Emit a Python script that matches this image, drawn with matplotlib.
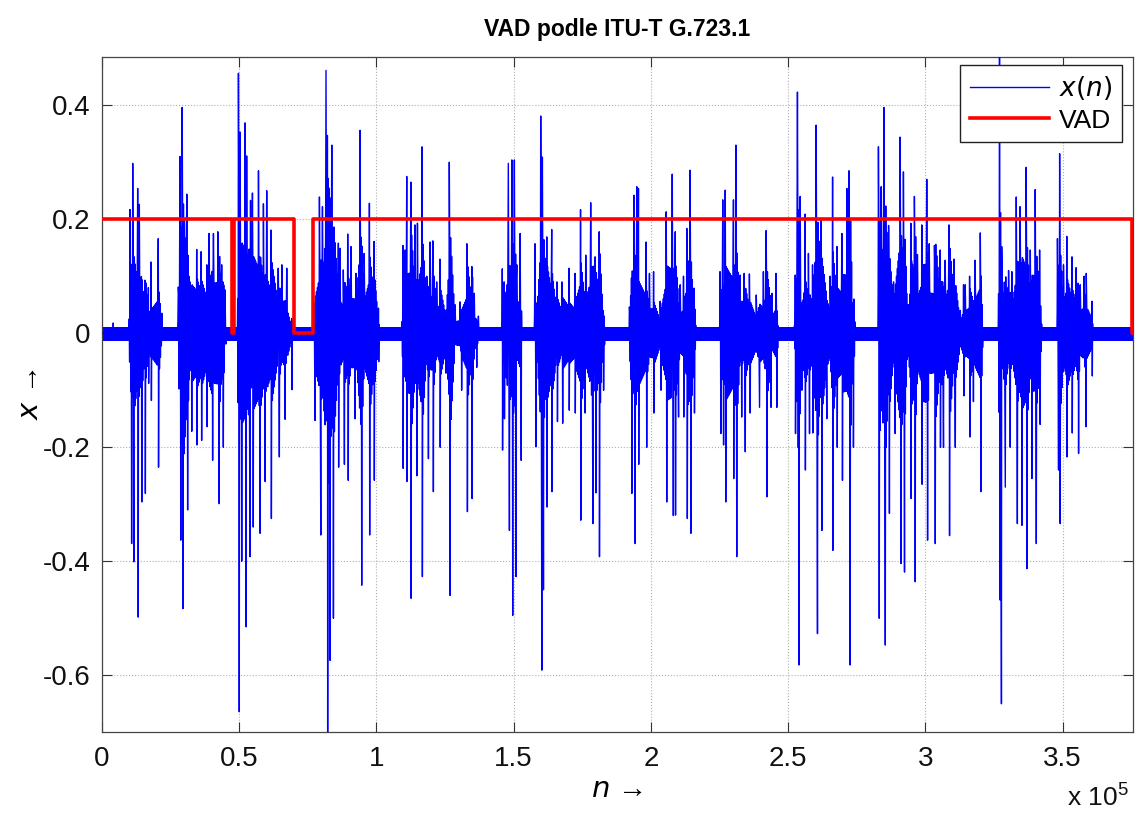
import numpy as np
import matplotlib
matplotlib.use('Agg')
import matplotlib.pyplot as plt

plt.rcParams['font.family'] = ['Liberation Sans', 'DejaVu Sans']
plt.rcParams['mathtext.default'] = 'regular'

# ---------------- data (n in thousands of samples) ----------------
N_MAX = 375.5
NOISE_UP = 0.011
NOISE_LO = -0.013

vad_n = [0.0, 47.4, 48.2, 70.0, 76.9, 375.1, 375.5]
vad_v = [0.2, 0.0, 0.2, 0.0, 0.2, 0.0, 0.0]

blip = [(4.2, 0.018)]

# speech bursts: start, end (thousands of samples)
burst_start = [9.9, 27.6, 49.4, 77.0, 109.3, 145.7, 157.5, 191.7, 225.0, 252.2, 282.7, 326.5, 347.9]
burst_end   = [22.3, 45.5, 69.6, 101.5, 137.8, 153.0, 183.5, 216.5, 246.5, 274.5, 321.0, 342.5, 361.0]
# share of neighbouring peak height reached by the dense in-between oscillation
core_share  = [0.35, 0.50, 0.40, 0.40, 0.40, 0.35, 0.40, 0.40, 0.40, 0.40, 0.45, 0.40, 0.45]

# peaks (n, value)
b01 = [(10.3,0.217),(10.9,-0.369),(11.3,0.298),(11.7,-0.401),(13.1,0.254),(13.3,-0.498),(13.7,0.226),
       (14.6,-0.296),(15.8,0.093),(15.9,-0.281),(17.0,0.08),(17.1,-0.088),(18.0,0.125),(18.1,-0.118),
       (20.6,0.166),(20.7,-0.235),(21.9,0.035)]
b02 = [(27.9,0.081),(28.5,0.31),(28.8,-0.363),(29.3,0.396),(29.6,-0.483),(31.0,0.244),(31.3,-0.31),
       (32.2,0.09),(32.8,-0.172),(34.6,0.147),(34.7,-0.196),(36.2,0.143),(36.4,-0.188),(38.3,0.12),
       (38.4,-0.164),(39.1,0.175),(40.4,-0.223),(40.7,0.175),(42.3,0.178),(42.8,-0.299),(43.7,0.12),
       (44.3,-0.2),(44.9,0.076)]
b03 = [(49.8,0.456),(50.1,-0.664),(50.4,0.353),(51.0,-0.40),(52.2,0.369),(52.6,-0.515),(52.8,0.311),
       (54.0,-0.392),(54.2,0.233),(54.9,0.246),(55.2,-0.34),(57.1,0.285),(57.7,-0.351),(58.9,0.227),
       (59.5,-0.26),(60.1,0.25),(61.7,0.181),(61.8,-0.325),(64.3,0.114),(64.7,-0.217),(65.6,0.12),
       (66.8,-0.151),(67.4,0.114),(69.2,0.026),(69.3,-0.099)]
b04 = [(77.3,0.053),(77.7,-0.153),(79.3,0.239),(79.8,-0.354),(80.4,0.222),(81.7,0.461),(82.2,0.347),
       (82.3,-0.70),(83.2,-0.574),(83.8,0.33),(84.4,-0.50),(86.2,0.158),(86.3,-0.235),(86.8,0.149),
       (88.0,0.111),(88.4,-0.23),(89.6,0.174),(89.8,-0.258),(90.8,0.152),(92.3,-0.15),(92.6,0.105),
       (94.1,0.356),(94.7,-0.442),(95.6,0.14),(97.5,0.228),(97.6,-0.354),(99.2,0.161),(99.3,-0.258),
       (100.8,0.044),(100.9,-0.05)]
b05 = [(109.7,0.154),(109.8,-0.237),(110.5,0.146),(111.1,0.275),(111.2,-0.26),(112.6,0.265),(112.7,-0.465),
       (114.1,0.19),(114.8,-0.25),(115.0,0.193),(116.7,0.327),(116.8,-0.427),(118.4,0.1),(119.0,-0.22),
       (119.6,0.16),(120.6,0.162),(120.8,-0.278),(122.0,0.09),(123.2,0.13),(123.3,-0.2),(125.4,-0.07),
       (126.6,0.30),(126.9,-0.46),(128.7,0.05),(130.5,0.055),(131.1,-0.1),(133.0,0.157),(133.2,-0.313),
       (134.8,0.117),(134.9,-0.29),(135.7,0.07),(136.6,-0.06),(137.2,0.03)]
b06 = [(145.9,0.113),(146.0,-0.205),(146.6,0.09),(146.7,-0.15),(148.1,0.298),(148.5,-0.346),(149.4,0.304),
       (149.7,-0.495),(150.3,0.304),(150.9,-0.427),(151.2,0.12),(152.4,0.175),(152.8,-0.223)]
b07 = [(157.8,0.157),(158.2,-0.199),(158.4,0.053),(159.9,0.381),(160.3,-0.591),(160.5,0.309),(160.9,-0.45),
       (162.1,0.169),(162.2,-0.305),(163.9,0.182),(164.0,-0.278),(165.8,0.09),(166.0,-0.155),(167.6,0.09),
       (167.9,-0.158),(170.2,0.114),(170.3,-0.135),(172.4,0.105),(172.5,-0.14),(174.4,0.217),(174.5,-0.328),
       (176.1,-0.14),(176.3,0.137),(178.1,0.229),(178.9,-0.334),(179.7,0.134),(180.0,-0.28),(181.2,0.178),
       (181.3,-0.392),(182.7,0.04),(182.8,-0.1)]
b08 = [(192.2,0.046),(193.1,-0.281),(193.9,0.242),(194.3,-0.369),(194.9,0.257),(195.5,0.254),(195.6,-0.23),
       (198.3,0.16),(198.5,-0.2),(199.5,0.105),(201.0,0.108),(201.1,-0.14),(203.4,0.056),(203.7,-0.1),
       (205.6,0.213),(205.8,-0.296),(207.8,0.279),(208.2,-0.32),(208.9,0.178),(209.0,-0.319),(210.1,-0.147),
       (210.7,0.085),(211.9,0.1),(212.0,-0.147),(213.1,0.184),(213.3,-0.325),(214.3,0.286),(214.6,-0.351),
       (215.8,0.079),(215.9,-0.14)]
b09 = [(225.2,0.108),(225.5,-0.176),(226.2,0.234),(226.5,-0.196),(227.1,0.251),(227.3,-0.296),(230.1,0.234),
       (230.2,-0.255),(231.0,0.33),(231.3,-0.392),(232.5,0.102),(233.1,-0.147),(234.0,0.105),(234.4,-0.208),
       (235.9,0.104),(236.2,-0.14),(238.4,0.067),(239.6,-0.13),(241.0,0.108),(242.0,0.18),(242.3,-0.287),
       (243.8,-0.13),(244.1,0.07),(245.6,0.105),(245.9,-0.13)]
b10 = [(252.6,0.102),(252.7,-0.176),(253.4,0.423),(254.0,-0.582),(254.4,0.24),(255.0,-0.1),(256.2,0.209),
       (256.3,-0.24),(257.4,0.14),(257.8,-0.176),(258.9,0.12),(259.0,-0.175),(260.2,0.365),(260.7,-0.527),
       (262.0,0.2),(262.3,-0.346),(264.1,-0.15),(265.3,0.1),(266.2,0.274),(266.3,-0.381),(267.8,0.152),
       (267.9,-0.2),(269.6,0.175),(269.8,-0.258),(271.4,0.254),(272.2,0.285),(272.6,-0.582),(273.6,0.043),
       (273.8,-0.2)]
b11 = [(282.9,0.327),(283.2,-0.50),(283.9,0.257),(284.9,0.396),(285.4,-0.547),(286.6,0.189),(286.9,-0.316),
       (288.4,0.09),(289.0,-0.176),(290.8,0.344),(291.1,-0.404),(292.0,0.283),(292.4,-0.419),(293.5,0.05),
       (294.7,0.193),(294.8,-0.29),(296.0,0.24),(296.3,-0.436),(297.1,0.138),(298.7,0.19),(298.8,-0.265),
       (300.5,0.27),(300.8,-0.363),(301.4,0.157),(303.3,0.154),(303.6,-0.369),(305.4,0.146),(305.5,-0.2),
       (306.6,-0.2),(307.2,0.128),(308.6,0.19),(308.8,-0.355),(310.4,0.13),(310.9,-0.2),(312.7,0.04),
       (313.9,0.085),(314.0,-0.11),(314.5,0.085),(316.1,0.1),(316.2,-0.182),(317.5,-0.12),(318.1,0.128),
       (320.0,0.176),(320.2,-0.278)]
b12 = [(327.0,0.52),(327.2,-0.468),(327.7,-0.65),(327.9,0.11),(329.1,-0.27),(330.3,0.11),(330.9,-0.2),
       (331.5,0.108),(333.1,0.239),(333.5,-0.334),(334.5,0.222),(335.2,-0.337),(336.7,0.291),(337.0,-0.413),
       (338.2,0.146),(338.8,-0.255),(340.0,0.252),(340.4,-0.369),(341.6,0.146),(341.8,-0.16)]
b13 = [(348.1,0.166),(348.5,-0.24),(348.9,0.315),(349.1,-0.334),(350.3,0.12),(351.5,0.17),(351.6,-0.217),
       (353.4,0.134),(353.5,-0.175),(354.9,0.115),(355.8,-0.211),(356.4,0.085),(357.8,0.1),(358.5,-0.164),
       (358.6,0.105),(360.7,0.056),(360.8,-0.075)]

x_ticks = [0, 0.5, 1, 1.5, 2, 2.5, 3, 3.5]
x_ticklabels = ['0', '0.5', '1', '1.5', '2', '2.5', '3', '3.5']
y_ticks = [-0.6, -0.4, -0.2, 0, 0.2, 0.4]
y_ticklabels = ['-0.6', '-0.4', '-0.2', '0', '0.2', '0.4']

bursts = [b01, b02, b03, b04, b05, b06, b07, b08, b09, b10, b11, b12, b13]

# ---------------- build waveform path ----------------
xs = [0.0, blip[0][0] - 0.1, blip[0][0], blip[0][0] + 0.1]
ys = [0.0, 0.0, blip[0][1], 0.0]
for pk, s, e, share in zip(bursts, burst_start, burst_end, core_share):
    pk = sorted(pk)
    xs.append(s); ys.append(0.0)
    prev = (s, 0.0)
    for n, v in pk + [(e, 0.0)]:
        pn, pv = prev
        k = max(int((n - pn) / 0.18), 1)
        for j in range(1, k + 1):
            f = j / (k + 1)
            t = pn + (n - pn) * f
            amp = share * ((1 - f) * abs(pv) + f * abs(v))
            ys.append(amp if j % 2 else -amp)
            xs.append(t)
        xs.append(n); ys.append(v)
        prev = (n, v)
xs.append(N_MAX); ys.append(0.0)
xs = np.array(xs) * 1e3
ys = np.array(ys)

# ---------------- figure ----------------
fig = plt.figure(figsize=(11.44, 8.13), dpi=100)
ax = fig.add_axes([0.0889, 0.0993, 0.9012, 0.8302])

BLUE = '#0000ff'
ax.fill_between([0, N_MAX * 1e3], [NOISE_LO, NOISE_LO], [NOISE_UP, NOISE_UP], color=BLUE, lw=0, zorder=2)
ln_x, = ax.plot(xs, ys, color=BLUE, lw=1.0, zorder=3, label='x(n)')
ln_v, = ax.plot(np.array(vad_n) * 1e3, vad_v, color='#ff0000', lw=2.6, drawstyle='steps-post',
                zorder=4, label='VAD')

ax.set_xlim(0, N_MAX * 1e3)
ax.set_ylim(-0.7, 0.484)
ax.set_xticks(np.array(x_ticks) * 1e5)
ax.set_xticklabels(x_ticklabels)
ax.set_yticks(y_ticks)
ax.set_yticklabels(y_ticklabels)
ax.tick_params(direction='in', length=7, width=0.8, labelsize=20, top=True, right=True,
               color='#333333', labelcolor='#111111')
ax.tick_params(axis='x', pad=10)
ax.tick_params(axis='y', pad=8)
ax.grid(True, linestyle=':', color='#b0b0b0', linewidth=0.8)
ax.set_axisbelow(True)
for sp in ax.spines.values():
    sp.set_color('#444444')
    sp.set_linewidth(0.9)

ax.set_title('VAD podle ITU-T G.723.1', fontsize=16.5, fontweight='bold', pad=15)
ax.set_xlabel('$\\mathit{n}$ \u2192', fontsize=21, labelpad=2)
ax.set_ylabel('$\\mathit{x}$ \u2192', fontsize=21, labelpad=-1)
fig.text(0.933, 0.002, 'x 10$^{5}$', fontsize=19, ha='left', va='bottom', color='#111111')

leg = ax.legend(handles=[ln_x, ln_v], labels=['$\\mathit{x(n)}$', 'VAD'], loc='upper right',
                bbox_to_anchor=(0.9895, 0.989), fontsize=19, frameon=True, fancybox=False,
                edgecolor='#222222', framealpha=1, borderpad=0.35, labelspacing=0.25,
                handlelength=3.0, handletextpad=0.4, borderaxespad=0)
leg.get_frame().set_linewidth(1.0)
leg.legend_handles[0].set_linewidth(1.0)

fig.savefig('out.png', dpi=100)
